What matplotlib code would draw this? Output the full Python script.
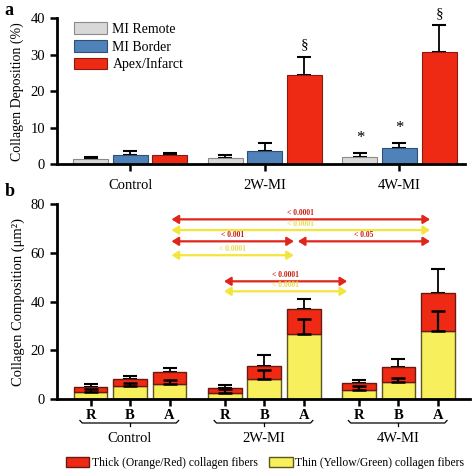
import numpy as np
import matplotlib
matplotlib.use('Agg')
import matplotlib.pyplot as plt
import matplotlib.transforms as mtransforms
from matplotlib.patches import Patch

# painel a - deposicao de colageno (%)
grupos = ['Control', '2W-MI', '4W-MI']
regioes_a = ['MI Remote', 'MI Border', 'Apex/Infarct']
remoto = [1.3, 1.6, 2.0]
remoto_err = [0.7, 0.9, 1.1]
borda = [2.5, 3.7, 4.3]
borda_err = [1.0, 2.1, 1.6]
apex = [2.5, 24.6, 30.8]
apex_err = [0.4, 4.7, 7.5]

# painel b - composicao de colageno (um2)
rotulos_b = ['R', 'B', 'A']
fino = [2.8, 5.5, 6.2, 2.6, 8.1, 26.6, 3.7, 7.1, 28.1]
fino_err = [1.2, 1.0, 1.6, 1.5, 3.8, 6.2, 1.5, 1.4, 8.2]
total = [5.1, 8.2, 11.0, 4.7, 13.6, 36.9, 6.5, 13.0, 43.7]
total_err = [0.9, 1.4, 1.9, 1.1, 4.5, 4.3, 1.3, 3.3, 9.8]

# comparacoes (x inicio, x fim, y, texto, cor)
comp_x0 = [2.05, 2.05, 2.05, 5.25, 2.05, 3.38, 3.38]
comp_x1 = [8.6, 8.6, 5.15, 8.6, 5.15, 6.5, 6.5]
comp_y = [73.7, 69.3, 64.7, 64.7, 59.0, 48.3, 44.2]
comp_txt = ['< 0.0001', '< 0.0001', '< 0.001', '< 0.05', '< 0.0001', '< 0.0001', '< 0.0001']
comp_cor = ['red', 'yellow', 'red', 'red', 'yellow', 'red', 'yellow']

CINZA = '#d8d8d8'
AZUL = '#4f82b8'
VERMELHO = '#ee2a15'
AMARELO = '#f7ef5c'
COR_LINHA = {'red': '#e0261a', 'yellow': '#f2e63c'}
COR_TEXTO = {'red': '#c81e14', 'yellow': '#e8dc50'}

plt.rcParams['font.family'] = ['Liberation Serif', 'DejaVu Serif']
plt.rcParams['font.size'] = 10


def estilizar_eixo(ax):
    ax.spines['top'].set_visible(False)
    ax.spines['right'].set_visible(False)
    ax.spines['left'].set_linewidth(2)
    ax.spines['bottom'].set_linewidth(2)
    ax.tick_params(width=1.8, length=5, labelsize=10.5)


def painel_a(fig):
    ax = fig.add_axes([0.1208, 0.654, 0.864, 0.307])
    pos = np.array([0.0, 3.4, 6.8])
    largura = 0.88
    series = [(remoto, remoto_err, CINZA, '#8a8a8a'),
              (borda, borda_err, AZUL, '#2f4f75'),
              (apex, apex_err, VERMELHO, '#8a1a10')]
    for i, (vals, errs, cor, borda_cor) in enumerate(series):
        ax.bar(pos + i, vals, largura, color=cor, edgecolor=borda_cor, linewidth=0.8,
               label=regioes_a[i], zorder=2)
        ax.errorbar(pos + i, vals, yerr=[np.zeros(3), errs], fmt='none', ecolor='black',
                    elinewidth=1.3, capsize=5, capthick=1.5, zorder=1)

    ax.text(pos[1] + 2, 31.0, '§', ha='center', va='bottom', fontsize=11)
    ax.text(pos[2] + 2, 39.6, '§', ha='center', va='bottom', fontsize=11, clip_on=False)
    ax.text(pos[2], 5.0, '*', ha='center', va='bottom', fontsize=12)
    ax.text(pos[2] + 1, 7.6, '*', ha='center', va='bottom', fontsize=12)

    ax.set_xlim(-0.85, 9.45)
    ax.set_ylim(0, 40)
    ax.set_yticks([0, 10, 20, 30, 40])
    ax.set_xticks(pos + 1)
    ax.set_xticklabels(grupos)
    ax.tick_params(axis='x', pad=6)
    ax.set_ylabel('Collagen Deposition (%)', fontsize=10, labelpad=5)
    estilizar_eixo(ax)
    ax.legend(loc='upper left', bbox_to_anchor=(0.01, 1.06), frameon=False, fontsize=10,
              handlelength=2.4, handleheight=0.9, labelspacing=0.3, handletextpad=0.4)
    fig.text(0.01, 0.995, 'a', fontsize=13, fontweight='bold', va='top')


def painel_b(fig):
    ax = fig.add_axes([0.1208, 0.158, 0.874, 0.4116])
    pos = np.array([g + i for g in [0.0, 3.4, 6.8] for i in range(3)])
    largura = 0.85
    grosso = np.array(total) - np.array(fino)
    ax.bar(pos, fino, largura, color=AMARELO, edgecolor='#5c5620', linewidth=1.0, zorder=2)
    ax.bar(pos, grosso, largura, bottom=fino, color=VERMELHO, edgecolor='#6a1a10',
           linewidth=1.0, zorder=2)
    ax.errorbar(pos, total, yerr=[np.zeros(9), total_err], fmt='none', ecolor='black',
                elinewidth=1.3, capsize=5, capthick=1.5, zorder=1)
    ax.errorbar(pos, fino, yerr=[np.zeros(9), fino_err], fmt='none', ecolor='black',
                elinewidth=1.6, capsize=5, capthick=1.8, zorder=3)

    for x0, x1, y, txt, cor in zip(comp_x0, comp_x1, comp_y, comp_txt, comp_cor):
        ax.annotate('', xy=(x1, y), xytext=(x0, y),
                    arrowprops=dict(arrowstyle='<|-|>,head_length=0.4,head_width=0.25',
                                    color=COR_LINHA[cor], lw=1.6, shrinkA=0, shrinkB=0))
        ax.text((x0 + x1) / 2, y + 0.9, txt, ha='center', va='bottom', fontsize=5.5,
                fontweight='bold', color=COR_TEXTO[cor])

    ax.set_xlim(-0.85, 9.6)
    ax.set_ylim(0, 80)
    ax.set_yticks([0, 20, 40, 60, 80])
    ax.set_xticks(pos)
    ax.set_xticklabels(rotulos_b * 3, fontweight='bold')
    ax.tick_params(axis='x', pad=2)
    ax.set_ylabel('Collagen Composition (μm²)', fontsize=10.5, labelpad=4)
    estilizar_eixo(ax)

    trans = mtransforms.blended_transform_factory(ax.transData, fig.transFigure)
    y_chave = 1 - 423 / 474
    dy = 2.5 / 474
    for g, nome in zip([0.0, 3.4, 6.8], grupos):
        xa, xb = g - 0.27, g + 2.23
        xm = g + 1
        ax.plot([xa, xa + 0.06, xb - 0.06, xb],
                [y_chave + dy, y_chave, y_chave, y_chave + dy],
                color='black', lw=0.9, transform=trans, clip_on=False)
        ax.plot([xm, xm], [y_chave, y_chave - dy], color='black', lw=0.9,
                transform=trans, clip_on=False)
        ax.text(xm, 1 - 438 / 474, nome, ha='center', va='center', fontsize=10.5,
                transform=trans)

    handles = [Patch(facecolor=VERMELHO, edgecolor='#6a1a10', label='Thick (Orange/Red) collagen fibers'),
               Patch(facecolor=AMARELO, edgecolor='#5c5620', label='Thin (Yellow/Green) collagen fibers')]
    fig.legend(handles=handles, loc='center', bbox_to_anchor=(265 / 472, 1 - 463 / 474), ncol=2,
               frameon=False, fontsize=8.4, handlelength=2.0, handleheight=0.9,
               handletextpad=0.2, columnspacing=1.0)
    fig.text(0.01, 1 - 183 / 474, 'b', fontsize=13, fontweight='bold', va='top')


def main():
    fig = plt.figure(figsize=(4.72, 4.74), dpi=100)
    painel_a(fig)
    painel_b(fig)
    fig.savefig('out.png', dpi=100)
    plt.close(fig)


if __name__ == '__main__':
    main()
